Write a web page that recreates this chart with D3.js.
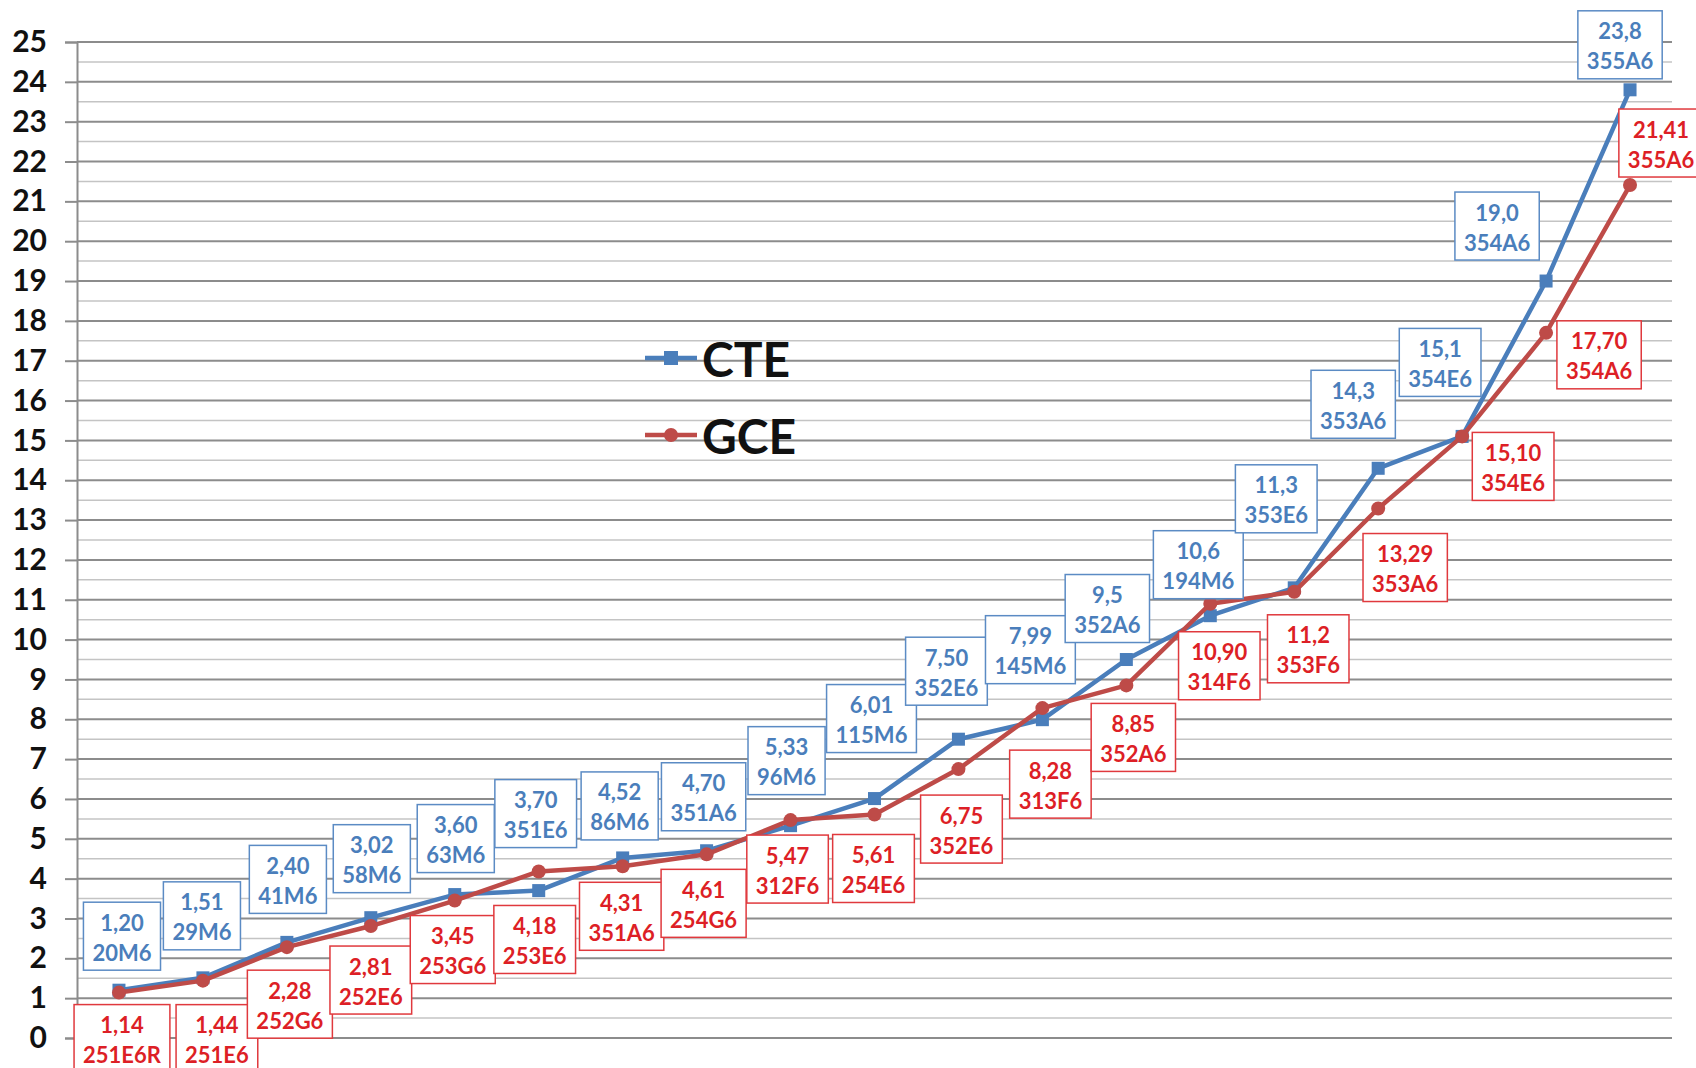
<!DOCTYPE html>
<html>
<head>
<meta charset="utf-8">
<script src="https://cdn.jsdelivr.net/npm/d3@7"></script>
<style>
  html, body { margin: 0; padding: 0; background: #fff; }
  svg { display: block; font-family: Lato, "Open Sans", sans-serif; }
</style>
</head>
<body>
<div id="chart"></div>
<script>
// series values
const cteValues = [1.20, 1.51, 2.40, 3.02, 3.60, 3.70, 4.52, 4.70, 5.33, 6.01, 7.50, 7.99, 9.5, 10.6, 11.3, 14.3, 15.1, 19.0, 23.8];
const cteCodes = ["20M6", "29M6", "41M6", "58M6", "63M6", "351E6", "86M6", "351A6", "96M6", "115M6", "352E6", "145M6", "352A6", "194M6", "353E6", "353A6", "354E6", "354A6", "355A6"];
const cteText = ["1,20", "1,51", "2,40", "3,02", "3,60", "3,70", "4,52", "4,70", "5,33", "6,01", "7,50", "7,99", "9,5", "10,6", "11,3", "14,3", "15,1", "19,0", "23,8"];

const gceValues = [1.14, 1.44, 2.28, 2.81, 3.45, 4.18, 4.31, 4.61, 5.47, 5.61, 6.75, 8.28, 8.85, 10.90, 11.2, 13.29, 15.10, 17.70, 21.41];
const gceCodes = ["251E6R", "251E6", "252G6", "252E6", "253G6", "253E6", "351A6", "254G6", "312F6", "254E6", "352E6", "313F6", "352A6", "314F6", "353F6", "353A6", "354E6", "354A6", "355A6"];
const gceText = ["1,14", "1,44", "2,28", "2,81", "3,45", "4,18", "4,31", "4,61", "5,47", "5,61", "6,75", "8,28", "8,85", "10,90", "11,2", "13,29", "15,10", "17,70", "21,41"];

const yTicks = d3.range(0, 26);
const seriesNames = ["CTE", "GCE"];

// manual placement of data label boxes, relative to their point (px)
const cteLabelNudge = [[3,-54],[-1,-62],[1,-63],[1,-59],[1,-56],[-3,-77],[-3,-52],[-3,-54],[-4,-65],[-3,-80],
  [-12,-68],[-12,-70],[-19,-51],[-12,-51],[-18,-89],[-25,-64],[-22,-74],[-49,-55],[-10,-45]];
const gceLabelNudge = [[3,46],[14,58],[3,57],[0,54],[-2,49],[-4,68],[-1,50],[-3,49],[-3,49],[-1,54],
  [3,60],[8,76],[7,52],[9,62],[14,57],[27,59],[51,30],[53,22],[31,-42]];

const width = 1696, height = 1068;
const plot = { left: 77, right: 1672, top: 42, bottom: 1038 };

const svg = d3.select("#chart").append("svg")
  .attr("width", width)
  .attr("height", height);

const x = d3.scalePoint()
  .domain(d3.range(cteValues.length))
  .range([plot.left, plot.right])
  .padding(0.5);

const y = d3.scaleLinear()
  .domain([0, 25])
  .range([plot.bottom, plot.top]);

// minor gridlines at half units
svg.append("g")
  .selectAll("line")
  .data(d3.range(0.5, 25, 1))
  .enter().append("line")
  .attr("x1", plot.left).attr("x2", plot.right)
  .attr("y1", d => y(d)).attr("y2", d => y(d))
  .attr("stroke", "#c4c4c4")
  .attr("stroke-width", 1.5);

// major gridlines + y axis
const yAxis = svg.append("g")
  .attr("transform", "translate(" + plot.left + ",0)")
  .call(d3.axisLeft(y).tickValues(yTicks).tickSize(12).tickPadding(18).tickFormat(d3.format("d")));

yAxis.select(".domain").attr("stroke", "#8c8c8c").attr("stroke-width", 2);
yAxis.selectAll(".tick line").attr("stroke", "#8c8c8c").attr("stroke-width", 2);
yAxis.selectAll(".tick text")
  .attr("fill", "#111")
  .style("font-size", "30px")
  .style("font-weight", "bold")
  .style("font-family", "Lato, sans-serif");

svg.append("g")
  .selectAll("line")
  .data(yTicks)
  .enter().append("line")
  .attr("x1", plot.left).attr("x2", plot.right)
  .attr("y1", d => y(d)).attr("y2", d => y(d))
  .attr("stroke", "#8c8c8c")
  .attr("stroke-width", 2);

const series = [
  { name: seriesNames[0], values: cteValues, text: cteText, codes: cteCodes, nudge: cteLabelNudge,
    line: "#4a7ebb", label: "#4a7ebb", border: "#5b8bc4", marker: "square" },
  { name: seriesNames[1], values: gceValues, text: gceText, codes: gceCodes, nudge: gceLabelNudge,
    line: "#be4b48", label: "#dd1f26", border: "#e0393d", marker: "circle" }
];

const line = d3.line().x((d, i) => x(i)).y(d => y(d));

series.forEach(function(s) {
  svg.append("path")
    .datum(s.values)
    .attr("fill", "none")
    .attr("stroke", s.line)
    .attr("stroke-width", 4.5)
    .attr("stroke-linejoin", "round")
    .attr("d", line);

  const g = svg.append("g");
  if (s.marker === "square") {
    g.selectAll("rect").data(s.values).enter().append("rect")
      .attr("x", (d, i) => x(i) - 6.5).attr("y", d => y(d) - 6.5)
      .attr("width", 13).attr("height", 13)
      .attr("fill", s.line);
  } else {
    g.selectAll("circle").data(s.values).enter().append("circle")
      .attr("cx", (d, i) => x(i)).attr("cy", d => y(d))
      .attr("r", 7)
      .attr("fill", s.line);
  }
});

// data labels (boxed, two lines)
series.forEach(function(s) {
  s.values.forEach(function(v, i) {
    const cx = x(i) + s.nudge[i][0];
    const cy = y(v) + s.nudge[i][1];
    const lg = svg.append("g").attr("transform", "translate(" + cx + "," + cy + ")");
    const box = lg.append("rect");
    const t1 = lg.append("text")
      .attr("text-anchor", "middle")
      .attr("dominant-baseline", "central")
      .attr("y", -14)
      .attr("fill", s.label)
      .style("font-size", "22px").style("font-weight", "bold")
      .text(s.text[i]);
    const t2 = lg.append("text")
      .attr("text-anchor", "middle")
      .attr("dominant-baseline", "central")
      .attr("y", 16)
      .attr("fill", s.label)
      .style("font-size", "22px").style("font-weight", "bold")
      .text(s.codes[i]);
    const w = Math.max(t1.node().getComputedTextLength(), t2.node().getComputedTextLength()) + 18;
    box.attr("x", -w / 2).attr("y", -34)
      .attr("width", w).attr("height", 68)
      .attr("fill", "#fff")
      .attr("stroke", s.border)
      .attr("stroke-width", 1.5);
  });
});

// legend
const legend = svg.append("g").attr("transform", "translate(645,358)");
series.forEach(function(s, i) {
  const lg = legend.append("g").attr("transform", "translate(0," + (i * 77) + ")");
  lg.append("line")
    .attr("x1", 0).attr("x2", 52)
    .attr("stroke", s.line).attr("stroke-width", 4.5);
  if (s.marker === "square") {
    lg.append("rect").attr("x", 19).attr("y", -7).attr("width", 14).attr("height", 14).attr("fill", s.line);
  } else {
    lg.append("circle").attr("cx", 26).attr("r", 7).attr("fill", s.line);
  }
  lg.append("text")
    .attr("x", 57)
    .attr("dominant-baseline", "central")
    .attr("fill", "#111")
    .style("font-size", "48px").style("font-weight", "bold")
    .text(s.name);
});
</script>
</body>
</html>
